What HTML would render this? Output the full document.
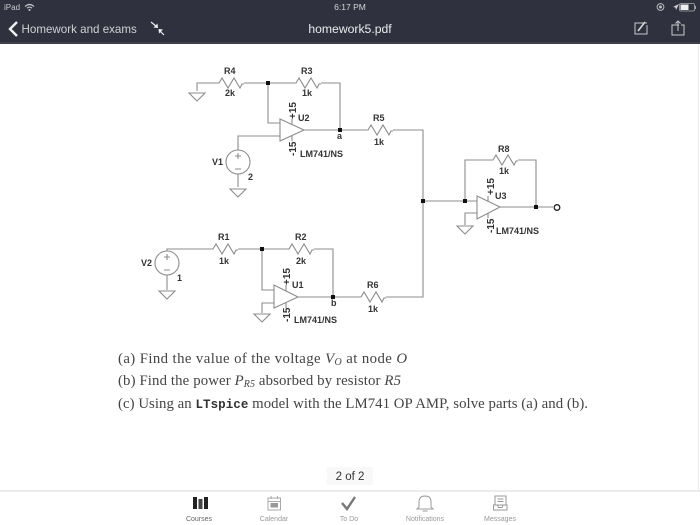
<!DOCTYPE html>
<html>
<head>
<meta charset="utf-8">
<style>
html,body{margin:0;padding:0;background:#fff;}
svg{display:block;}
.w{fill:none;stroke:#8c8c8c;stroke-width:1.1;}
.g{font-family:"Liberation Sans",sans-serif;font-weight:700;font-size:9px;fill:#333;}
.t{font-family:"Liberation Serif",serif;font-size:14.8px;fill:#444;}
.i{font-style:italic;}
.m{font-family:"Liberation Mono",monospace;font-size:12.5px;fill:#333;font-weight:700;}
.n{font-family:"Liberation Sans",sans-serif;font-size:7px;fill:#999;text-anchor:middle;}
.s{font-family:"Liberation Sans",sans-serif;}
</style>
</head>
<body>
<svg width="700" height="525" viewBox="0 0 700 525" xmlns="http://www.w3.org/2000/svg">
<defs>
<g id="gnd"><path class="w" d="M-8 0H8L0 8Z"/></g>
<g id="res"><path class="w" d="M0 0H2L5 -5L11 5L17 -5L23 5L25 1H27"/></g>
</defs>
<rect width="700" height="525" fill="#fff"/>
<!-- top bar -->
<rect width="700" height="43" fill="#2f323e"/>
<rect y="42" width="700" height="2" fill="#3d404b"/>
<text x="4" y="10" class="s" font-size="8" fill="#c8c9cd">iPad</text>
<path d="M25 6.5Q29.5 2.5 34 6.5M27 8.2Q29.5 6 32 8.2" fill="none" stroke="#c8c9cd" stroke-width="1.1"/>
<circle cx="29.5" cy="10" r="1" fill="#c8c9cd"/>
<text x="350" y="10" class="s" font-size="8.5" fill="#d5d6d9" text-anchor="middle">6:17 PM</text>
<circle cx="660.5" cy="7" r="3.4" fill="none" stroke="#b9babd" stroke-width="1"/><circle cx="660.5" cy="7" r="1.5" fill="#b9babd"/>
<path d="M673 7L679 4L676 10L675.5 7.5Z" fill="#d5d6d9"/>
<rect x="679.5" y="3.5" width="15" height="7.5" rx="1.5" fill="none" stroke="#a8a9ad" stroke-width=".8"/>
<rect x="680.5" y="4.5" width="8" height="5.5" fill="#eee"/>
<rect x="695" y="6" width="1" height="3" fill="#a8a9ad"/>
<path d="M17 22L10 29L17 36" fill="none" stroke="#f0f0f0" stroke-width="2.4"/>
<text x="21.5" y="33" class="s" font-size="11.6" fill="#d0d1d4">Homework and exams</text>
<path d="M151 22L157 27M164 35L159 30" stroke="#eee" stroke-width="1.2" fill="none"/>
<path d="M158 28L153.500 27.500L157.500 23.500Z M158.500 29L163 29.500L159 33.500Z" fill="#eee"/>
<text x="350" y="33" class="s" font-size="12.200" fill="#ececee" text-anchor="middle">homework5.pdf</text>
<path d="M647 23H635V34H647V25" fill="none" stroke="#c8c9cc" stroke-width="1"/>
<path d="M638 31L645 22" stroke="#d8d8da" stroke-width="1.600" fill="none"/>
<path d="M679 25H672V35H684V25H681M678 31V21M675.500 23.500L678 21L680.500 23.500" fill="none" stroke="#c8c9cc" stroke-width="1"/>

<!-- right page edge -->
<rect x="698" y="44" width="1" height="446" fill="#ececec"/>

<!-- U2 section -->
<path class="w" d="M197 91V83H218"/>
<use href="#gnd" x="197" y="93"/>
<use href="#res" x="217" y="83"/>
<path class="w" d="M244 83H295M268 83V123H280"/>
<use href="#res" x="294" y="83"/>
<path class="w" d="M321 83H340V130"/>
<path class="w" d="M280 119V141L304 130ZM304 130H366"/>
<use href="#res" x="366" y="130"/>
<path class="w" d="M393 130H423V297H386"/>
<path class="w" d="M238 150V136H280M238 174V187"/>
<circle class="w" cx="238" cy="162" r="12"/>
<path class="w" d="M235 156H241M238 153V159M235 169H241"/>
<use href="#gnd" x="238" y="189"/>
<path class="w" d="M292 119V124M292 136V141"/>
<rect x="266" y="81" width="4" height="4" fill="#111"/>
<rect x="338" y="128" width="4" height="4" fill="#111"/>
<text class="g" x="224" y="74">R4</text><text class="g" x="225" y="96">2k</text>
<text class="g" x="301" y="74">R3</text><text class="g" x="302" y="96">1k</text>
<text class="g" x="373" y="121">R5</text><text class="g" x="374" y="145">1k</text>
<text class="g" x="337" y="139">a</text>
<text class="g" x="298" y="121" font-size="9.5">U2</text>
<text class="g" x="300" y="157">LM741/NS</text>
<text class="g" x="212" y="165" font-size="9.5">V1</text>
<text class="g" x="248" y="180">2</text>
<text class="g" transform="translate(296,119) rotate(-90)" style="font-size:10px">+15</text>
<text class="g" transform="translate(296,156) rotate(-90)" style="font-size:10px">-15</text>

<!-- U1 section -->
<path class="w" d="M167 251V249H212"/>
<use href="#res" x="211" y="249"/>
<path class="w" d="M238 249H288M262 249V290H274"/>
<use href="#res" x="287" y="249"/>
<path class="w" d="M314 249H333V297"/>
<path class="w" d="M274 285V308L298 297ZM298 297H360"/>
<use href="#res" x="359" y="297"/>
<path class="w" d="M274 303H262V313"/>
<use href="#gnd" x="262" y="314"/>
<circle class="w" cx="167" cy="263" r="12"/>
<path class="w" d="M164 257H170M167 254V260M164 270H170M167 275V290"/>
<use href="#gnd" x="167" y="291"/>
<path class="w" d="M286 285V291M286 302V308"/>
<rect x="260" y="247" width="4" height="4" fill="#111"/>
<rect x="331" y="295" width="4" height="4" fill="#111"/>
<text class="g" x="218" y="240">R1</text><text class="g" x="219" y="264">1k</text>
<text class="g" x="295" y="240">R2</text><text class="g" x="296" y="264">2k</text>
<text class="g" x="367" y="288">R6</text><text class="g" x="368" y="312">1k</text>
<text class="g" x="331" y="306">b</text>
<text class="g" x="292" y="288" font-size="9.5">U1</text>
<text class="g" x="294" y="323">LM741/NS</text>
<text class="g" x="141" y="266" font-size="9.5">V2</text>
<text class="g" x="177" y="281">1</text>
<text class="g" transform="translate(290,285) rotate(-90)" style="font-size:10px">+15</text>
<text class="g" transform="translate(290,322) rotate(-90)" style="font-size:10px">-15</text>

<!-- U3 section -->
<path class="w" d="M423 201H477M465 201V160H492"/>
<use href="#res" x="491" y="160"/>
<path class="w" d="M518 160H536V207"/>
<path class="w" d="M477 196V219L500 207ZM500 207H553"/>
<circle cx="557" cy="207.500" r="2.800" fill="none" stroke="#222" stroke-width="1.300"/>
<path class="w" d="M477 213H465V225"/>
<use href="#gnd" x="465" y="226"/>
<path class="w" d="M488 196V201M488 213V218"/>
<rect x="421" y="199" width="4" height="4" fill="#111"/>
<rect x="463" y="199" width="4" height="4" fill="#111"/>
<rect x="534" y="205" width="4" height="4" fill="#111"/>
<text class="g" x="498" y="152">R8</text><text class="g" x="499" y="174">1k</text>
<text class="g" x="495" y="199" font-size="9.5">U3</text>
<text class="g" x="496" y="234">LM741/NS</text>
<text class="g" transform="translate(494,195) rotate(-90)" style="font-size:10px">+15</text>
<text class="g" transform="translate(494,233) rotate(-90)" style="font-size:10px">-15</text>

<!-- questions -->
<text class="t" x="118" y="363" textLength="289">(a)  Find the value of the voltage <tspan class="i">V</tspan><tspan class="i" font-size="10" dy="2">O</tspan><tspan dy="-2"> at node </tspan><tspan class="i">O</tspan></text>
<text class="t" x="118" y="385" textLength="283">(b)  Find the power <tspan class="i">P</tspan><tspan class="i" font-size="10" dy="2">R5</tspan><tspan dy="-2"> absorbed by resistor </tspan><tspan class="i">R5</tspan></text>
<text class="t" x="118" y="408" textLength="470">(c)  Using an <tspan class="m">LTspice</tspan> model with the LM741 OP AMP, solve parts (a) and (b).</text>

<!-- page pill -->
<rect x="327" y="467" width="46" height="18" fill="#f8f8f8"/>
<text x="350" y="480" class="s" font-size="11.500" fill="#333" text-anchor="middle">2 of 2</text>

<!-- tab bar -->
<rect y="490" width="700" height="2" fill="#ececec"/>
<rect x="193" y="497" width="4" height="12" fill="#222"/>
<rect x="198.500" y="499" width="4" height="10" fill="#444"/>
<rect x="204" y="497" width="4" height="12" fill="#222"/>
<text class="n" x="199" y="521" style="fill:#666">Courses</text>
<rect x="268" y="498" width="12.500" height="12" fill="none" stroke="#aaa"/>
<path d="M268 501.500H280.500M271 496V499M277.500 496V499" stroke="#aaa" fill="none"/>
<rect x="270.500" y="503" width="7.500" height="4.500" fill="#999"/>
<text class="n" x="274" y="521">Calendar</text>
<path d="M342 503L347 509L355 497" fill="none" stroke="#777" stroke-width="2.400"/>
<text class="n" x="349" y="521">To Do</text>
<path d="M419 507V502Q419 496 425 496Q431 496 431 502V507L433 509H417Z" fill="none" stroke="#999"/>
<path d="M422.500 511H427.500" stroke="#999"/>
<text class="n" x="425" y="521">Notifications</text>
<rect x="495" y="496" width="11" height="9" fill="none" stroke="#999"/>
<path d="M497.500 499H503.500M497.500 501.500H503.500" stroke="#999"/>
<path d="M493.500 505V510H507V505H503L502 507.500H498.500L497.500 505Z" fill="none" stroke="#999"/>
<text class="n" x="500" y="521">Messages</text>
</svg>
</body>
</html>
